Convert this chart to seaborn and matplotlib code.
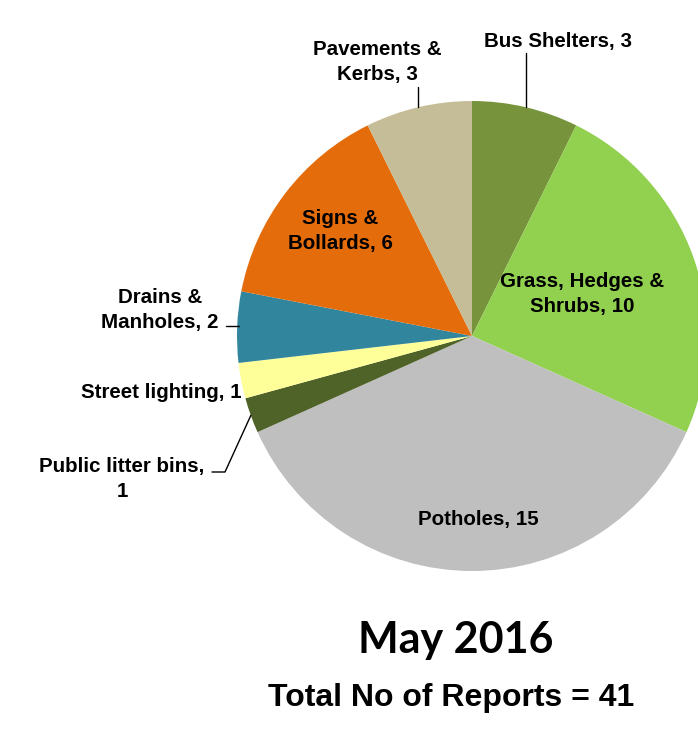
import numpy as np
import matplotlib
matplotlib.use("Agg")
import matplotlib.pyplot as plt
import seaborn as sns

categories = ["Bus Shelters", "Grass, Hedges &\nShrubs", "Potholes", "Public litter bins,\n",
              "Street lighting", "Drains &\nManholes", "Signs &\nBollards", "Pavements &\nKerbs"]
values = [3, 10, 15, 1, 1, 2, 6, 3]
colors = ["#77933C", "#92D050", "#BFBFBF", "#4F6228", "#FFFF99", "#31859C", "#E46C0A", "#C4BD97"]
title = "May 2016"
subtitle = "Total No of Reports = 41"

sns.set_theme(style="white")
plt.rcParams['font.family'] = ['Liberation Sans', 'DejaVu Sans']
plt.rcParams['text.color'] = 'black'

W, H = 698, 731
fig = plt.figure(figsize=(W / 100, H / 100), dpi=100)
ax = fig.add_axes([0, 0, 1, 1])

cx, cy, r = 472, H - 336, 235
wedges, _ = ax.pie(values, colors=colors, startangle=90, counterclock=False,
                   center=(cx, cy), radius=r, frame=True,
                   wedgeprops=dict(linewidth=0))
ax.set_xlim(0, W)
ax.set_ylim(0, H)
ax.set_aspect('equal')
ax.axis('off')

def label_text(i):
    name = categories[i]
    v = values[i]
    if name.endswith("\n"):
        return name + str(v)
    return f"{name}, {v}"

def edge_point(i):
    w = wedges[i]
    a = np.deg2rad((w.theta1 + w.theta2) / 2)
    return cx + r * np.cos(a), cy + r * np.sin(a)

fs = 14.8
kw = dict(fontsize=fs, fontweight='bold', color='black', ha='center', va='center', linespacing=1.38)

# label positions in pixel coords (top-left origin)
pos = {0: (558, 42), 1: (582, 294), 2: (478, 520), 3: (122, 479),
       4: (161, 392), 5: (160, 310), 6: (340, 231), 7: (377, 62)}
for i, (px, py) in pos.items():
    ax.text(px, H - py, label_text(i), **kw)

lk = dict(color='black', lw=1.0)
ex, ey = edge_point(0)
ax.plot([ex, ex], [ey, H - 53], **lk)
ex, ey = edge_point(7)
ax.plot([ex, ex], [ey, H - 87], **lk)
ax.plot([226, 239], [H - 326, H - 326], **lk)
ex, ey = edge_point(3)
ax.plot([212, 225, ex], [H - 472, H - 472, ey], **lk)

ax.text(456, H - 640, title, fontsize=31, fontweight='bold', ha='center', va='center',
        color='black', family=['Lato', 'DejaVu Sans'])
ax.text(451, H - 698, subtitle, fontsize=23, fontweight='bold', ha='center', va='center',
        color='black')

fig.savefig("out.png", dpi=100, facecolor='white')
